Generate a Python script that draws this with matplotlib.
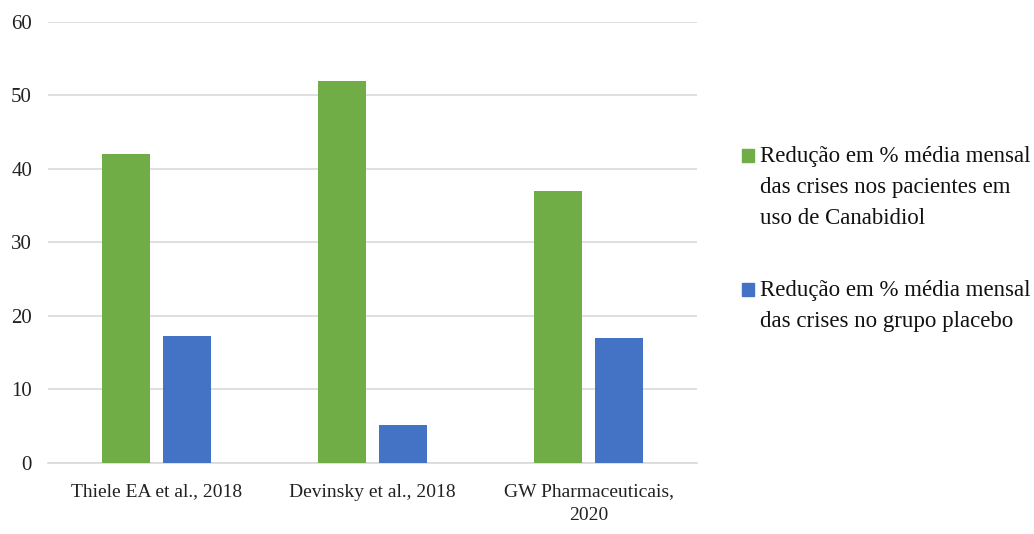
import numpy as np
import matplotlib.pyplot as plt
from matplotlib.patches import Rectangle

estudos = ["Thiele EA et al., 2018", "Devinsky et al., 2018", "GW Pharmaceuticais,\n2020"]
canabidiol = [42, 52, 37]
placebo = [17.2, 5.1, 17]
rotulos = ["Redução em % média mensal\ndas crises nos pacientes em\nuso de Canabidiol",
           "Redução em % média mensal\ndas crises no grupo placebo"]
cores = ['#70ad47', '#4472c4']

plt.rcParams['font.family'] = ['Liberation Serif', 'DejaVu Serif']

W, H = 1034, 534
fig = plt.figure(figsize=(W / 100, H / 100), dpi=100)
ax = fig.add_axes([48 / W, 1 - 462.7 / H, 649 / W, 440.7 / H])

x = np.arange(len(estudos))
w = 0.222
ax.bar(x - 0.141, canabidiol, w, color=cores[0], zorder=3)
ax.bar(x + 0.141, placebo, w, color=cores[1], zorder=3)

ax.set_xlim(-0.5, 2.5)
ax.set_ylim(0, 60)
ax.set_yticks(range(0, 61, 10))
ax.grid(axis='y', color='#d9d9d9', linewidth=1.2, zorder=0)
for s in ['top', 'right', 'left']:
    ax.spines[s].set_visible(False)
ax.spines['bottom'].set_color('#d9d9d9')
ax.spines['bottom'].set_linewidth(1.2)
ax.tick_params(length=0, colors='#222222')
ax.tick_params(axis='y', pad=11.5, labelsize=15)
ax.tick_params(axis='x', pad=15, labelsize=14)
ax.set_xticks(x)
ax.set_xticklabels(estudos, linespacing=1.5)

# legenda feita à mão: quadrado alinhado com a primeira linha do texto
for i, (rot, cor) in enumerate(zip(rotulos, cores)):
    base = [162, 296][i]
    fig.add_artist(Rectangle((742 / W, 1 - base / H), 12 / W, 13 / H,
                             transform=fig.transFigure, color=cor))
    fig.text(760 / W, 1 - (base - 16) / H, rot, fontsize=16.5, va='top',
             ha='left', linespacing=1.62, color='#111111')

fig.savefig('out.png')
